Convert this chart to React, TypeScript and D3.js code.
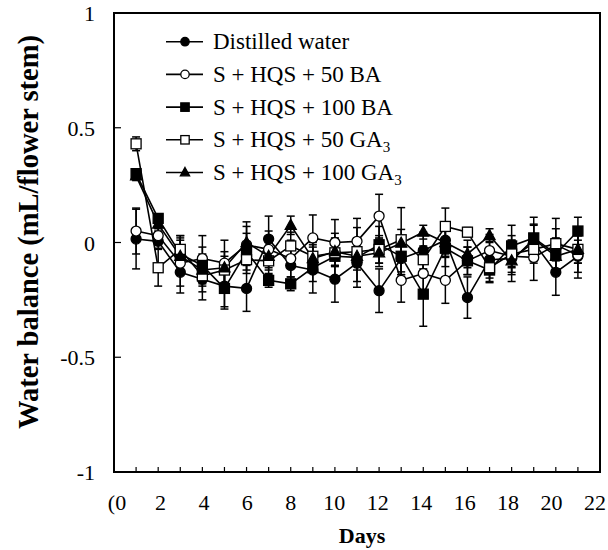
import React from 'react';
import * as d3 from 'd3';

const days = [1, 2, 3, 4, 5, 6, 7, 8, 9, 10, 11, 12, 13, 14, 15, 16, 17, 18, 19, 20, 21];

const distilled = [0.015, 0.005, -0.13, -0.16, -0.19, -0.2, 0.015, -0.1, -0.12, -0.16, -0.09, -0.21, -0.07, -0.035, 0.01, -0.24, -0.075, -0.07, 0.0, -0.13, -0.06];
const distilledErr = [0.13, 0.03, 0.09, 0.09, 0.09, 0.1, 0.1, 0.1, 0.1, 0.1, 0.08, 0.095, 0.07, 0.08, 0.06, 0.09, 0.08, 0.1, 0.08, 0.1, 0.07];

const ba50 = [0.05, 0.03, -0.09, -0.07, -0.09, -0.01, -0.03, -0.07, 0.02, 0.0, 0.005, 0.115, -0.165, -0.135, -0.165, -0.08, -0.035, -0.06, -0.065, -0.01, -0.055];
const ba50Err = [0.1, 0.03, 0.1, 0.1, 0.1, 0.08, 0.08, 0.08, 0.1, 0.1, 0.1, 0.095, 0.095, 0.08, 0.1, 0.06, 0.07, 0.07, 0.1, 0.07, 0.1];

const ba100 = [0.3, 0.105, -0.05, -0.1, -0.2, -0.04, -0.165, -0.18, -0.11, -0.06, -0.065, -0.01, -0.06, -0.225, -0.025, -0.08, -0.12, -0.015, 0.02, -0.05, 0.05];
const ba100Err = [0.02, 0.02, 0.08, 0.08, 0.09, 0.08, 0.03, 0.03, 0.06, 0.1, 0.13, 0.08, 0.08, 0.14, 0.08, 0.06, 0.05, 0.09, 0.09, 0.07, 0.06];

const ga50 = [0.43, -0.11, -0.03, -0.145, -0.12, -0.075, -0.08, -0.015, -0.06, -0.045, -0.04, -0.03, 0.012, -0.075, 0.07, 0.045, -0.11, -0.05, -0.03, -0.005, -0.03];
const ga50Err = [0.03, 0.08, 0.06, 0.07, 0.06, 0.06, 0.06, 0.06, 0.06, 0.06, 0.06, 0.06, 0.14, 0.06, 0.08, 0.02, 0.065, 0.06, 0.06, 0.11, 0.06];

const ga100 = [0.29, 0.08, -0.06, -0.12, -0.11, 0.0, -0.06, 0.075, -0.07, -0.04, -0.06, -0.045, -0.003, 0.045, 0.0, -0.05, 0.03, -0.08, 0.015, -0.06, -0.03];
const ga100Err = [0.02, 0.03, 0.08, 0.07, 0.07, 0.09, 0.06, 0.04, 0.06, 0.06, 0.06, 0.06, 0.06, 0.03, 0.06, 0.06, 0.03, 0.06, 0.06, 0.06, 0.06];

const seriesNames = ['Distilled water', 'S + HQS + 50 BA', 'S + HQS + 100 BA', 'S + HQS + 50 GA', 'S + HQS + 100 GA'];
const seriesSub = ['', '', '', '3', '3'];
const markerTypes = ['circleFilled', 'circleOpen', 'squareFilled', 'squareOpen', 'triangle'];

const xTickValues = [0, 2, 4, 6, 8, 10, 12, 14, 16, 18, 20, 22];
const xTickLabels = ['(0', '2', '4', '6', '8', '10', '12', '14', '16', '18', '20', '22'];
const xMinorTicks = [1, 2, 3, 4, 5, 6, 7, 8, 9, 10, 11, 12, 13, 14, 15, 16, 17, 18, 19, 20, 21];
const yTickValues = [-1, -0.5, 0, 0.5, 1];
const yTickLabels = ['-1', '-0.5', '0', '0.5', '1'];

const W = 608;
const H = 550;
const left = 114;
const right = 600;
const top = 13;
const bottom = 472;
const serif = '"Liberation Serif", "Times New Roman", serif';

const x = d3.scaleLinear().domain([0, 22]).range([left, right]);
const xLabel = d3.scaleLinear().domain([0, 22]).range([left + 3, right - 5]);
const y = d3.scaleLinear().domain([-1, 1]).range([bottom, top]);

function Marker({ type, cx, cy, s = 5 }: { type: string; cx: number; cy: number; s?: number }) {
  const sw = 1.3;
  if (type === 'circleFilled') return <circle cx={cx} cy={cy} r={s} fill="#000" stroke="#000" strokeWidth={sw} />;
  if (type === 'circleOpen') return <circle cx={cx} cy={cy} r={s} fill="#fff" stroke="#000" strokeWidth={sw} />;
  if (type === 'squareFilled') return <rect x={cx - s} y={cy - s} width={2 * s} height={2 * s} fill="#000" stroke="#000" strokeWidth={sw} />;
  if (type === 'squareOpen') return <rect x={cx - s} y={cy - s} width={2 * s} height={2 * s} fill="#fff" stroke="#000" strokeWidth={sw} />;
  const pts = [[cx, cy - s * 1.2], [cx + s * 1.1, cy + s * 0.8], [cx - s * 1.1, cy + s * 0.8]].map((p) => p.join(',')).join(' ');
  return <polygon points={pts} fill="#000" stroke="#000" strokeWidth={sw} />;
}

export default function App() {
  const series = [
    { vals: distilled, err: distilledErr },
    { vals: ba50, err: ba50Err },
    { vals: ba100, err: ba100Err },
    { vals: ga50, err: ga50Err },
    { vals: ga100, err: ga100Err },
  ];
  const line = d3
    .line<number>()
    .x((_, i) => x(days[i]))
    .y((v) => y(v));

  const legendX = 166;
  const legendY0 = 41.7;
  const legendStep = 32.7;

  return (
    <svg width={W} height={H} style={{ position: 'absolute', left: 0, top: 0, background: '#fff' }}>
      {/* error bars */}
      {series.map((s, si) => (
        <g key={'e' + si} stroke="#000" strokeWidth={1.5}>
          {s.vals.map((v, i) => {
            const cx = x(days[i]);
            const y1 = y(v + s.err[i]);
            const y2 = y(v - s.err[i]);
            return (
              <g key={i}>
                <line x1={cx} x2={cx} y1={y1} y2={y2} />
                <line x1={cx - 4} x2={cx + 4} y1={y1} y2={y1} />
                <line x1={cx - 4} x2={cx + 4} y1={y2} y2={y2} />
              </g>
            );
          })}
        </g>
      ))}
      {/* lines */}
      {series.map((s, si) => (
        <path key={'l' + si} d={line(s.vals) || ''} fill="none" stroke="#000" strokeWidth={1.6} />
      ))}
      {/* markers */}
      {series.map((s, si) => (
        <g key={'m' + si}>
          {s.vals.map((v, i) => (
            <Marker key={i} type={markerTypes[si]} cx={x(days[i])} cy={y(v)} />
          ))}
        </g>
      ))}

      {/* frame */}
      <rect x={left} y={top} width={right - left} height={bottom - top} fill="none" stroke="#000" strokeWidth={2} />
      {xMinorTicks.map((t) => (
        <line key={'xt' + t} x1={x(t)} x2={x(t)} y1={bottom} y2={bottom - 5} stroke="#000" strokeWidth={1.2} />
      ))}
      {yTickValues.map((t) => (
        <line key={'yt' + t} x1={left} x2={left + 7} y1={y(t)} y2={y(t)} stroke="#000" strokeWidth={1.2} />
      ))}
      {xTickValues.map((t, i) => (
        <text key={'xl' + t} x={xLabel(t)} y={bottom + 38} textAnchor="middle" fontFamily={serif} fontSize={22} fill="#000">
          {xTickLabels[i]}
        </text>
      ))}
      {yTickValues.map((t, i) => (
        <text key={'yl' + t} x={left - 19} y={y(t) + 8} textAnchor="end" fontFamily={serif} fontSize={22} fill="#000">
          {yTickLabels[i]}
        </text>
      ))}

      {/* axis titles */}
      <text x={362} y={543} textAnchor="middle" fontFamily={serif} fontSize={22} fontWeight="bold" fill="#000">
        Days
      </text>
      <text
        transform={`translate(38, 232) rotate(-90)`}
        textAnchor="middle"
        fontFamily={serif}
        fontSize={28.5}
        fontWeight="bold"
        fill="#000"
      >
        Water balance (mL/flower stem)
      </text>

      {/* legend */}
      {seriesNames.map((name, i) => {
        const ly = legendY0 + i * legendStep;
        return (
          <g key={'lg' + i}>
            <line x1={legendX} x2={legendX + 37} y1={ly} y2={ly} stroke="#000" strokeWidth={1.6} />
            <Marker type={markerTypes[i]} cx={legendX + 19} cy={ly} s={4.2} />
            <text x={legendX + 47} y={ly + 7.5} fontFamily={serif} fontSize={23} fill="#000">
              {name}
              {seriesSub[i] ? (
                <tspan fontSize={15} dy={5}>
                  {seriesSub[i]}
                </tspan>
              ) : null}
            </text>
          </g>
        );
      })}
    </svg>
  );
}
